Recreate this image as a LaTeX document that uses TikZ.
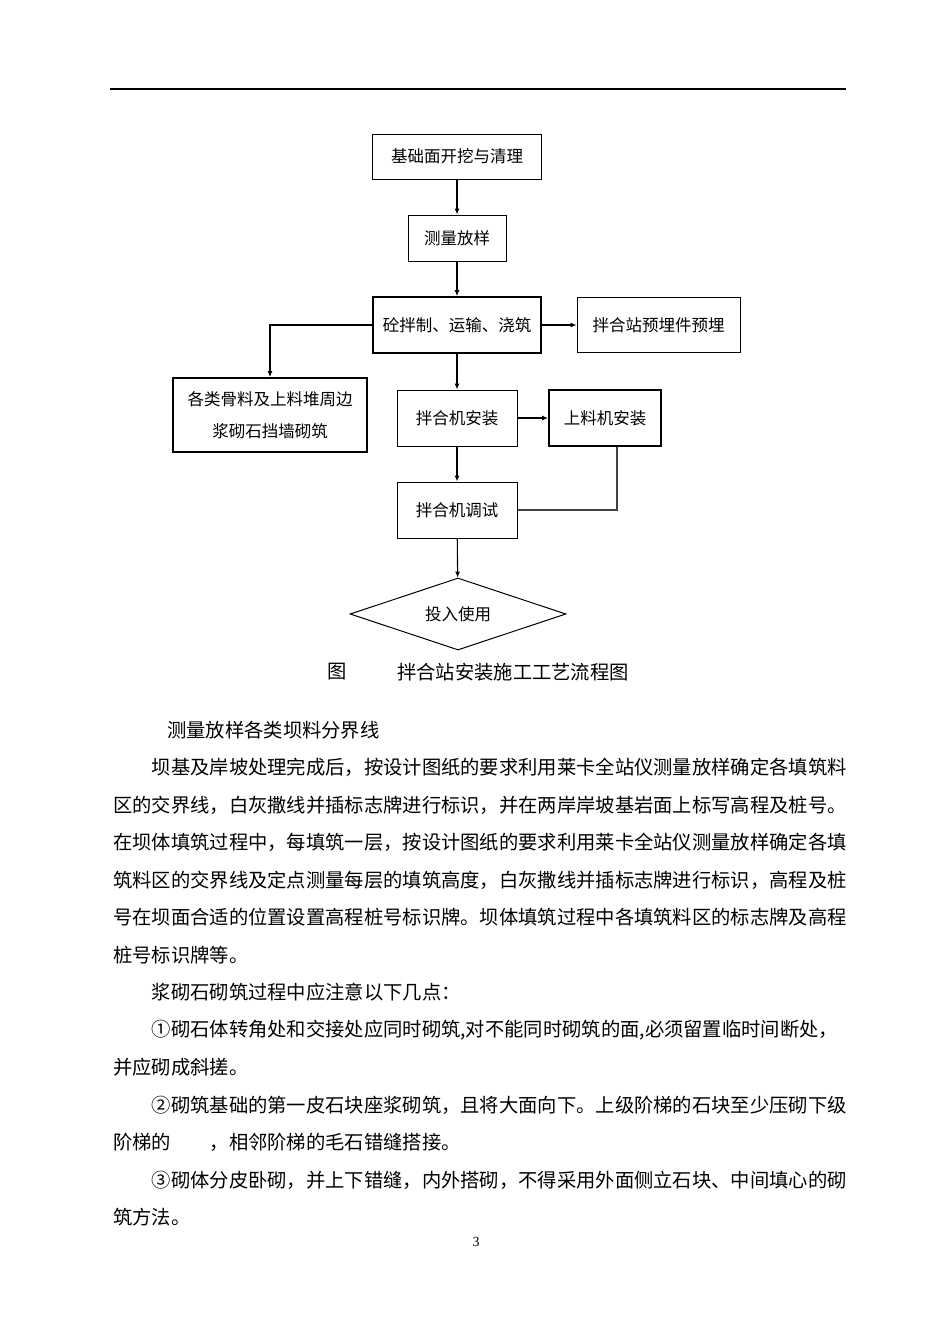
\documentclass[tikz,border=0pt]{standalone}
\usepackage{fontspec}
\setmainfont{Liberation Serif}
\newfontfamily\cjk{Noto Sans CJK SC}
\XeTeXlinebreaklocale "zh"
\XeTeXlinebreakskip=0pt plus 3pt
\usetikzlibrary{positioning,shapes.geometric,arrows.meta}
\newcommand{\fullline}[1]{\hbox to 733pt{#1}}

\begin{document}
\begin{tikzpicture}[x=1pt,y=-1pt]
        \tikzstyle{rect} = [draw, rectangle, line width=1pt, inner sep=0pt, align=center, font=\cjk\fontsize{16.5}{32}\selectfont]
        \tikzstyle{boldrect} = [rect, line width=1.8pt]
        \tikzstyle{decision} = [draw, diamond, shape aspect=3, line width=1pt, inner sep=0pt, font=\cjk\fontsize{16.5}{20}\selectfont]
        \tikzstyle{arr} = [-{Latex[length=6pt,width=5pt]}, line width=1.1pt]
        \tikzstyle{link} = [line width=1.1pt, black!75]
        \tikzstyle{body} = [anchor=west, inner sep=0pt, font=\cjk\fontsize{19.3}{19.3}\selectfont]
        \useasboundingbox (0,0) rectangle (950,1344);
        \draw[line width=1.6pt] (110,89) -- (846,89);

        \node (dig) [rect, minimum width=169, minimum height=45] at (457,156.5) {基础面开挖与清理};
        \node (survey) [rect, minimum width=98, minimum height=46] at (457,238) {测量放样};
        \node (mix) [boldrect, minimum width=168, minimum height=56] at (457,325) {砼拌制、运输、浇筑};
        \node (embed) [rect, minimum width=163, minimum height=55] at (658.5,325) {拌合站预埋件预埋};
        \node (wall) [boldrect, minimum width=194, minimum height=74] at (270,415) {各类骨料及上料堆周边\\浆砌石挡墙砌筑};
        \node (mixer) [rect, minimum width=120, minimum height=56] at (457,418) {拌合机安装};
        \node (feeder) [boldrect, minimum width=112, minimum height=56] at (605,418) {上料机安装};
        \node (debug) [rect, minimum width=120, minimum height=56] at (457,510) {拌合机调试};
        \node (use) [decision, minimum width=216, minimum height=72] at (458,614) {投入使用};

        \draw[arr] (dig) -- (survey);
        \draw[arr] (survey) -- (mix);
        \draw[arr] (mix) -- (embed);
        \draw[arr] (mix.west) -| (wall.north);
        \draw[arr] (mix) -- (mixer);
        \draw[arr] (mixer) -- (feeder);
        \draw[arr] (mixer) -- (debug);
        \draw[link] ([xshift=12pt]feeder.south) |- (debug.east);
        \draw[arr] (debug) -- (use);

        \node (figno) [body] at (327,672) {图};
        \node (caption) [body] at (397,672) {拌合站安装施工工艺流程图};

        \node (t0) [body] at (167,730) {测量放样各类坝料分界线};
        \node (t1) [body] at (151.6,767.5) {坝基及岸坡处理完成后，按设计图纸的要求利用莱卡全站仪测量放样确定各填筑料};
        \node (t2) [body] at (113,805) {\fullline{区的交界线，白灰撒线并插标志牌进行标识，并在两岸岸坡基岩面上标写高程及桩号。}};
        \node (t3) [body] at (113,842.5) {\fullline{在坝体填筑过程中，每填筑一层，按设计图纸的要求利用莱卡全站仪测量放样确定各填}};
        \node (t4) [body] at (113,880) {\fullline{筑料区的交界线及定点测量每层的填筑高度，白灰撒线并插标志牌进行标识，高程及桩}};
        \node (t5) [body] at (113,917.5) {\fullline{号在坝面合适的位置设置高程桩号标识牌。坝体填筑过程中各填筑料区的标志牌及高程}};
        \node (t6) [body] at (113,955) {桩号标识牌等。};
        \node (t7) [body] at (151.6,992.5) {浆砌石砌筑过程中应注意以下几点：};
        \node (t8) [body] at (151.6,1030) {\hbox to 694.4pt{①砌石体转角处和交接处应同时砌筑,对不能同时砌筑的面,必须留置临时间断处，}};
        \node (t9) [body] at (113,1067.5) {并应砌成斜搓。};
        \node (t10) [body] at (151.6,1105) {\hbox to 694.4pt{②砌筑基础的第一皮石块座浆砌筑，且将大面向下。上级阶梯的石块至少压砌下级}};
        \node (t11) [body] at (113,1142.5) {阶梯的\hspace{2em}，相邻阶梯的毛石错缝搭接。};
        \node (t12) [body] at (151.6,1180) {\hbox to 694.4pt{③砌体分皮卧砌，并上下错缝，内外搭砌，不得采用外面侧立石块、中间填心的砌}};
        \node (t13) [body] at (113,1217.5) {筑方法。};
        \node (pageno) [anchor=center, inner sep=0pt, font=\fontsize{14}{14}\selectfont] at (476,1242) {3};
\end{tikzpicture}
\end{document}
